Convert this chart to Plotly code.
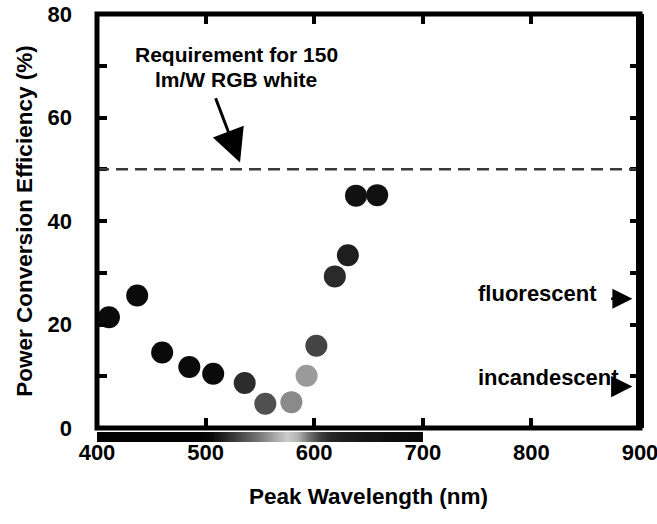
import plotly.graph_objects as go

# ---- data ----
wavelength_nm = [411, 437, 460, 485, 507, 536, 555, 579, 593, 602, 619, 631, 638.5, 658]
efficiency_pct = [21.4, 25.6, 14.6, 11.8, 10.5, 8.7, 4.7, 5.0, 10.1, 15.9, 29.3, 33.4, 44.9, 45.0]
marker_colors = ["#0a0a0a", "#0a0a0a", "#0a0a0a", "#0a0a0a", "#0a0a0a", "#2c2c2c",
                 "#505050", "#8a8a8a", "#9a9a9a", "#444444", "#2a2a2a", "#1e1e1e",
                 "#111111", "#111111"]

requirement_pct = 50
fluorescent_pct = 25
incandescent_pct = 8

# grayscale rendering of the visible spectrum strip (bin edges, lightness 0=black..1=white)
strip_edges = list(range(400, 701, 10))
strip_levels = [0, 0, 0, 0, 0, 0, 0, 0, 0, 0,
                0.03, 0.12, 0.22, 0.32, 0.42, 0.55, 0.68, 0.8, 0.7, 0.45,
                0.25, 0.15, 0.12, 0.1, 0.08, 0.08, 0.06, 0.05, 0.05, 0.04]

x_ticks = [400, 500, 600, 700, 800, 900]
y_ticks = [0, 20, 40, 60, 80]

FONT = "Liberation Sans, Arial, sans-serif"

fig = go.Figure()

# spectrum strip under the x axis
fig.add_trace(go.Heatmap(
    x=strip_edges, y=[0, 1], z=[strip_levels],
    colorscale=[[0, "#000000"], [1, "#ffffff"]], zmin=0, zmax=1, zsmooth="best",
    showscale=False, xaxis="x", yaxis="y2", hoverinfo="skip"))

# data points
fig.add_trace(go.Scatter(
    x=wavelength_nm, y=efficiency_pct, mode="markers",
    marker=dict(size=22, color=marker_colors, line=dict(width=0)),
    showlegend=False))

# requirement dashed line
fig.add_shape(type="line", xref="paper", yref="y", x0=0, x1=1,
              y0=requirement_pct, y1=requirement_pct,
              line=dict(color="#3a3a3a", width=2.5, dash="12px,7px"))

# plot frame (right side drawn heavier, as in the original)
fig.add_shape(type="rect", xref="x domain", yref="y domain", x0=0, x1=1, y0=0, y1=1,
              line=dict(color="black", width=5), fillcolor="rgba(0,0,0,0)", layer="above")
fig.add_shape(type="line", xref="x domain", yref="y domain", x0=1, x1=1, y0=0, y1=1,
              line=dict(color="black", width=8), layer="above")

ann_font = dict(family=FONT, size=22, color="black", weight="bold")
req_font = dict(family=FONT, size=21, color="black", weight="bold")

fig.add_annotation(x=528, y=72.2, xref="x", yref="y", text="Requirement for 150",
                   showarrow=False, font=req_font, align="center")
fig.add_annotation(x=528, y=67.3, xref="x", yref="y", text="lm/W RGB white",
                   showarrow=False, font=req_font, align="center")
fig.add_annotation(x=531.7, y=51.3, ax=508.7, ay=64, xref="x", yref="y",
                   axref="x", ayref="y", text="", showarrow=True,
                   arrowhead=2, arrowsize=2.2, arrowwidth=3, arrowcolor="black")

fig.add_annotation(x=749, y=26, xref="x", yref="y", text="fluorescent",
                   showarrow=False, font=ann_font, xanchor="left")
fig.add_annotation(x=893, y=fluorescent_pct, ax=872, ay=fluorescent_pct,
                   xref="x", yref="y", axref="x", ayref="y", text="",
                   showarrow=True, arrowhead=2, arrowsize=1.6, arrowwidth=2.5,
                   arrowcolor="black")

fig.add_annotation(x=749, y=9.8, xref="x", yref="y", text="incandescent",
                   showarrow=False, font=ann_font, xanchor="left")
fig.add_annotation(x=893, y=incandescent_pct, ax=877, ay=incandescent_pct,
                   xref="x", yref="y", axref="x", ayref="y", text="",
                   showarrow=True, arrowhead=2, arrowsize=1.7, arrowwidth=2.5,
                   arrowcolor="black")

tick_font = dict(family=FONT, size=22, color="black", weight="bold")
title_font = dict(family=FONT, size=22.5, color="black", weight="bold")

fig.update_layout(
    width=657, height=524,
    margin=dict(l=97, r=17, t=14, b=82, autoexpand=False),
    plot_bgcolor="white", paper_bgcolor="white",
    xaxis=dict(range=[400, 900], tickvals=x_ticks, ticks="inside", ticklen=10,
               tickwidth=4, tickcolor="black", showline=False,
               mirror="ticks", showgrid=False, zeroline=False, automargin=False,
               tickfont=tick_font, anchor="y", ticklabelstandoff=9,
               ticklabeloverflow="allow",
               title=dict(text="Peak Wavelength (nm)", font=title_font, standoff=24)),
    yaxis=dict(range=[0, 80], domain=[0.0327, 1], tickvals=y_ticks,
               ticks="inside", ticklen=10, tickwidth=4, tickcolor="black",
               showline=False, mirror="ticks", showgrid=False, zeroline=False,
               automargin=False, tickfont=tick_font, ticklabelstandoff=24,
               ticklabeloverflow="allow",
               minor=dict(tickvals=[10, 30, 50, 70], ticks="inside", ticklen=10,
                          tickwidth=4, tickcolor="black"),
               title=dict(text="Power Conversion Efficiency (%)", font=title_font,
                          standoff=8)),
    yaxis2=dict(domain=[0, 0.0234], range=[0, 1], showticklabels=False,
                showgrid=False, zeroline=False, showline=False, ticks="",
                anchor="x", automargin=False),
)

fig.write_html("out.html")
